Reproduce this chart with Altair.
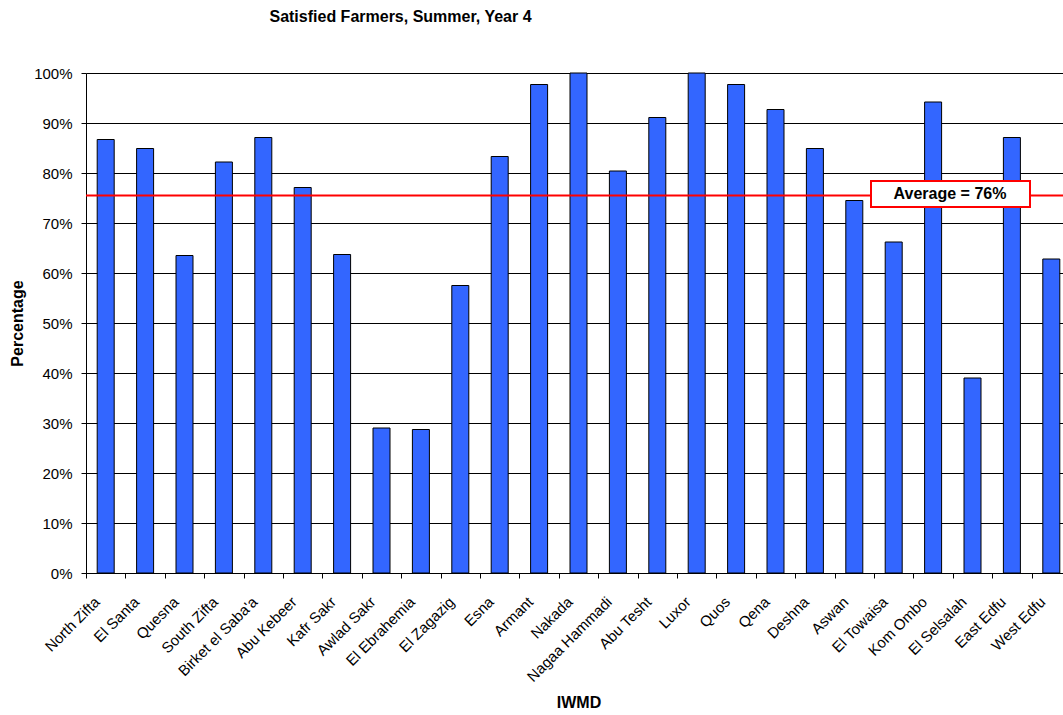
import altair as alt
import pandas as pd

# IWMD districts and the share of satisfied farmers (%)
districts = [
    "North Zifta", "El Santa", "Quesna", "South Zifta", "Birket el Saba'a",
    "Abu Kebeer", "Kafr Sakr", "Awlad Sakr", "El Ebrahemia", "El Zagazig",
    "Esna", "Armant", "Nakada", "Nagaa Hammadi", "Abu Tesht", "Luxor",
    "Quos", "Qena", "Deshna", "Aswan", "El Towaisa", "Kom Ombo",
    "El Selsalah", "East Edfu", "West Edfu",
]
satisfied = [
    86.7, 84.9, 63.5, 82.2, 87.1,
    77.1, 63.7, 29.0, 28.7, 57.5,
    83.3, 97.7, 100.0, 80.4, 91.1, 100.0,
    97.7, 92.7, 84.9, 74.5, 66.2, 94.2,
    39.0, 87.1, 62.8,
]
average = 75.5
y_ticks = [0, 10, 20, 30, 40, 50, 60, 70, 80, 90, 100]

FONT = "Liberation Sans"
BAR_BLUE = "#3366FF"
RED = "#FF0000"

df = pd.DataFrame({"IWMD": districts, "pct": satisfied})
avg_df = pd.DataFrame({"avg": [average], "label": [f"Average = {average:.0f}%"]})

x_enc = alt.X(
    "IWMD:N",
    sort=districts,
    scale=alt.Scale(range=[0, 985], paddingInner=0, paddingOuter=0),
    axis=alt.Axis(
        title="IWMD",
        labelAngle=-45,
        labelAlign="right",
        labelBaseline="middle",
        labelPadding=21,
        labelOffset=-9,
        tickBand="extent",
        tickSize=5,
        titlePadding=10,
    ),
)
y_enc = alt.Y(
    "pct:Q",
    scale=alt.Scale(domain=[0, 100], nice=False),
    axis=alt.Axis(
        title="Percentage",
        values=y_ticks,
        labelExpr="datum.value + '%'",
        grid=True,
        gridColor="#000000",
        gridWidth=1,
        tickSize=5,
        labelPadding=9,
        titlePadding=8,
    ),
)

bars = alt.Chart(df).mark_bar(
    width=17, fill=BAR_BLUE, stroke="#000000", strokeWidth=1
).encode(x=x_enc, y=y_enc)

avg_line = alt.Chart(avg_df).mark_rule(color=RED, strokeWidth=2).encode(
    y=alt.Y("avg:Q")
)

avg_box = alt.Chart(avg_df).mark_rect(
    fill="white", stroke=RED, strokeWidth=2
).encode(
    x=alt.value(785), x2=alt.value(944), y=alt.value(108), y2=alt.value(134)
)

avg_text = alt.Chart(avg_df).mark_text(
    font=FONT, fontSize=16, fontWeight="bold", color="#000000",
    align="center", baseline="middle",
).encode(x=alt.value(864), y=alt.value(121), text="label:N")

chart = (
    alt.layer(bars, avg_line, avg_box, avg_text)
    .properties(
        width=977,
        height=500,
        title=alt.TitleParams(
            "Satisfied Farmers, Summer, Year 4",
            font=FONT, fontSize=16, fontWeight="bold", color="#000000",
            anchor="middle", dx=-174, offset=41,
        ),
        autosize=alt.AutoSizeParams(type="none"),
        padding={"left": 86, "top": 73, "right": 0, "bottom": 142},
    )
    .configure_view(stroke=None)
    .configure_axis(
        labelFont=FONT, labelFontSize=15, labelColor="#000000",
        titleFont=FONT, titleFontSize=16, titleFontWeight="bold", titleColor="#000000",
        domainColor="#000000", tickColor="#000000", domainWidth=1,
    )
)

chart.save("out.html", embed_options={"renderer": "svg", "actions": False})
